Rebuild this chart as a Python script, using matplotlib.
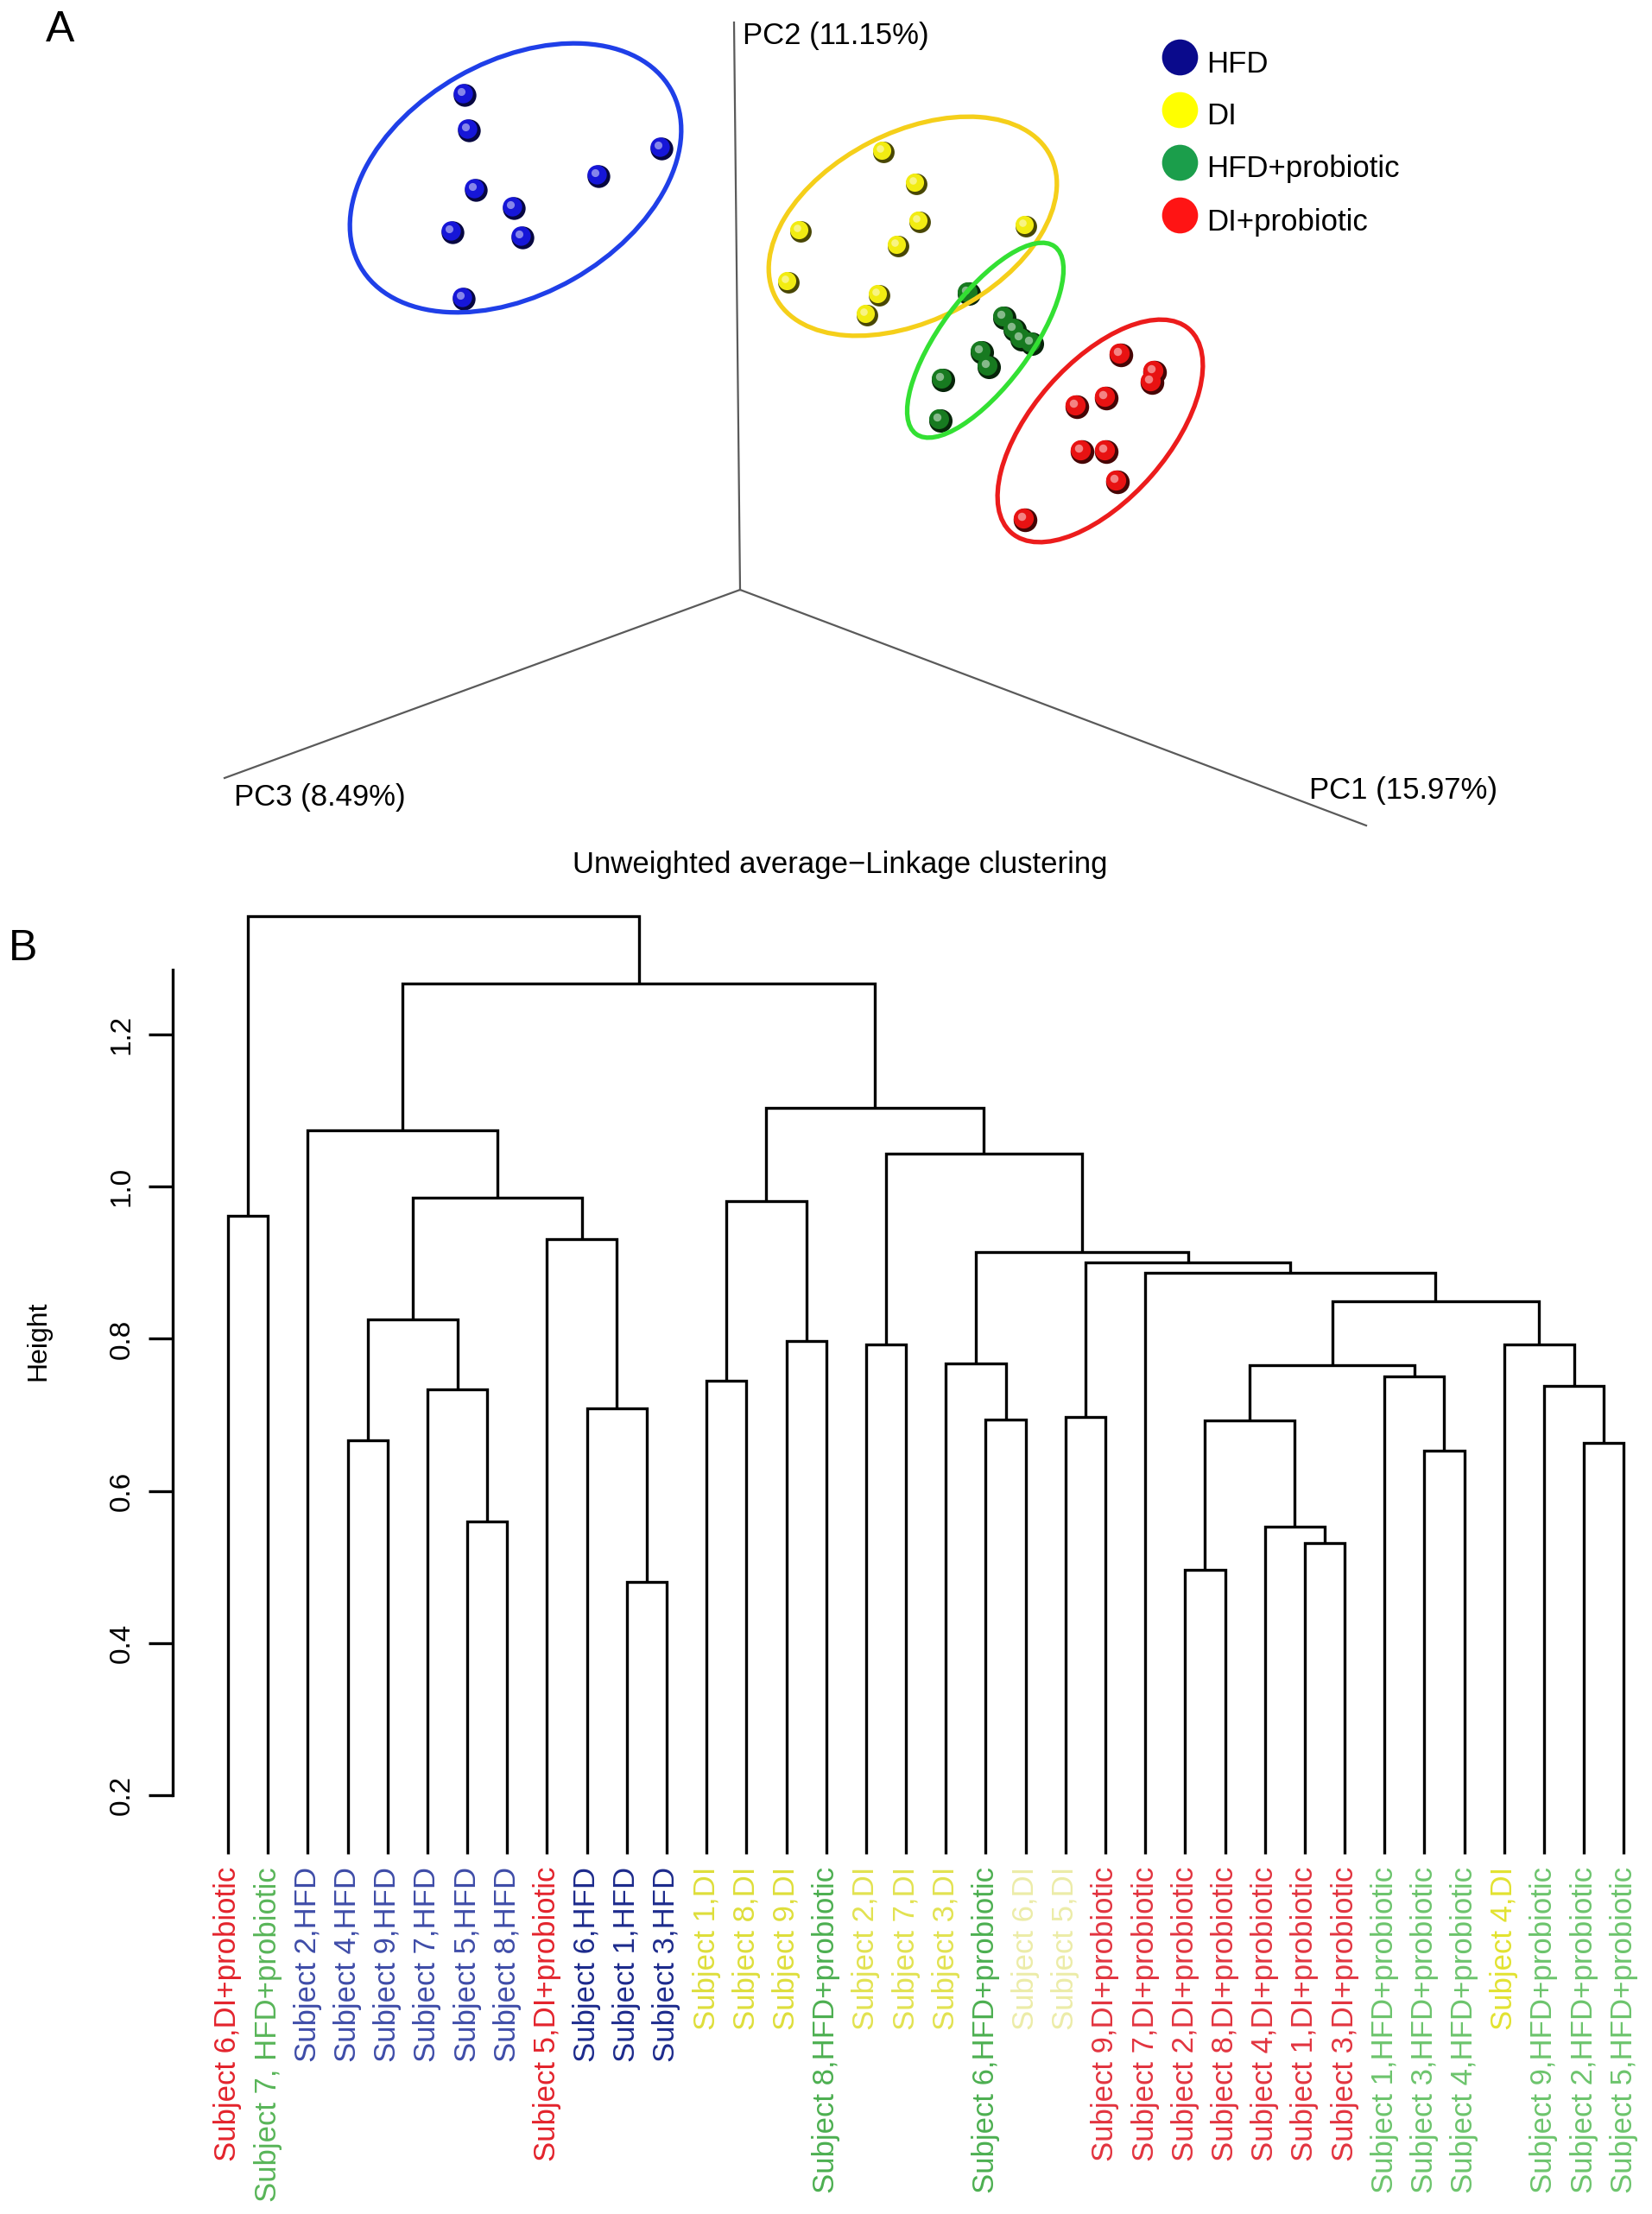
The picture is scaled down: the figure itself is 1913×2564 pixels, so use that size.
import matplotlib
matplotlib.use("Agg")
import matplotlib.pyplot as plt
from matplotlib.patches import Ellipse
from matplotlib.transforms import ScaledTranslation
from matplotlib.colors import to_rgb

plt.rcParams['font.family'] = ['Liberation Sans', 'DejaVu Sans']

# ---------------- Panel A data (projected PCoA coordinates) ----------------
groups = ['HFD', 'DI', 'HFD+probiotic', 'DI+probiotic']
legend_colors = ['#0a0a8c', '#ffff00', '#1b9e4b', '#ff1414']
point_colors = ['#1616d8', '#f2ec12', '#177a20', '#e81212']
ellipse_colors = ['#1f3fe8', '#f5cf1a', '#33e033', '#ec1c1c']

hfd_x = [-3.19, -3.14, -0.91, -1.64, -3.06, -2.62, -3.33, -2.52, -3.20]
hfd_y = [5.73, 5.32, 5.11, 4.79, 4.63, 4.42, 4.14, 4.08, 3.37]
di_x = [1.66, 2.04, 0.70, 2.08, 3.31, 1.83, 0.56, 1.61, 1.47]
di_y = [5.07, 4.70, 4.15, 4.26, 4.21, 3.98, 3.56, 3.41, 3.18]
hfdp_x = [2.65, 3.06, 3.18, 3.26, 3.38, 2.80, 2.88, 2.35, 2.32]
hfdp_y = [3.43, 3.15, 3.01, 2.90, 2.85, 2.75, 2.58, 2.43, 1.96]
dip_x = [4.41, 4.80, 4.77, 4.24, 3.90, 3.96, 4.24, 4.37, 3.30]
dip_y = [2.72, 2.52, 2.40, 2.22, 2.12, 1.60, 1.60, 1.25, 0.81]

# confidence ellipses: centre x, centre y, width, height, angle
ell_cx = [-2.60, 2.00, 2.84, 4.17]
ell_cy = [4.77, 4.21, 2.89, 1.84]
ell_w = [4.14, 3.58, 2.70, 3.13]
ell_h = [2.70, 2.18, 1.04, 1.58]
ell_ang = [29.7, 27.2, 53.5, 48.9]

# PC axes (end points, projected)
axis_names = ['PC1 (15.97%)', 'PC2 (11.15%)', 'PC3 (8.49%)']
axis_end_x = [7.25, -0.07, -5.97]
axis_end_y = [-2.73, 6.57, -2.18]

# ---------------- Panel B data (UPGMA dendrogram) ----------------
leaf_labels = [
    'Subject 6,DI+probiotic', 'Subject 7, HFD+probiotic', 'Subject 2,HFD', 'Subject 4,HFD',
    'Subject 9,HFD', 'Subject 7,HFD', 'Subject 5,HFD', 'Subject 8,HFD',
    'Subject 5,DI+probiotic', 'Subject 6,HFD', 'Subject 1,HFD', 'Subject 3,HFD',
    'Subject 1,DI', 'Subject 8,DI', 'Subject 9,DI', 'Subject 8,HFD+probiotic',
    'Subject 2,DI', 'Subject 7,DI', 'Subject 3,DI', 'Subject 6,HFD+probiotic',
    'Subject 6,DI', 'Subject 5,DI', 'Subject 9,DI+probiotic', 'Subject 7,DI+probiotic',
    'Subject 2,DI+probiotic', 'Subject 8,DI+probiotic', 'Subject 4,DI+probiotic',
    'Subject 1,DI+probiotic', 'Subject 3,DI+probiotic', 'Subject 1,HFD+probiotic',
    'Subject 3,HFD+probiotic', 'Subject 4,HFD+probiotic', 'Subject 4,DI',
    'Subject 9,HFD+probiotic', 'Subject 2,HFD+probiotic', 'Subject 5,HFD+probiotic']
leaf_colors = [
    '#e3232c', '#58b558', '#3e4ca8', '#3e4ca8', '#3e4ca8', '#3e4ca8', '#3e4ca8', '#3e4ca8',
    '#e3232c', '#1c2a8c', '#1c2a8c', '#1c2a8c',
    '#dede3a', '#dede3a', '#dede3a', '#4caf50', '#e2e250', '#e2e250', '#e2e250', '#4caf50',
    '#ececa8', '#ececa8', '#e2343f', '#e2343f', '#e2343f', '#e2343f', '#e2343f', '#e2343f',
    '#e2343f', '#6cc46c', '#6cc46c', '#6cc46c', '#e2e230', '#6cc46c', '#6cc46c', '#6cc46c']

# merges: negative = leaf number, positive = earlier merge number (R hclust style)
merge_left = [-11, -7, -4, -6, 3, -10, -9, 5, -3, -1, -13, -15, 11, -17, -20, -19, -22,
              -25, -28, -27, 18, -31, -30, 21, -35, -34, -33, 24, -24, 17, 16, 14, 13, 9, 10]
merge_right = [-12, -8, -5, 2, 4, 1, 6, 7, 8, -2, -14, -16, 12, -18, -21, 15, -23,
               -26, -29, 19, 20, -32, 22, 23, -36, 25, 26, 27, 28, 29, 30, 31, 32, 33, 34]
merge_height = [0.480, 0.560, 0.666, 0.733, 0.825, 0.709, 0.931, 0.985, 1.074, 0.962,
                0.745, 0.797, 0.981, 0.792, 0.694, 0.768, 0.697, 0.496, 0.532, 0.553,
                0.693, 0.653, 0.751, 0.765, 0.663, 0.738, 0.792, 0.849, 0.887, 0.900,
                0.914, 1.043, 1.104, 1.267, 1.355]
leaf_base = 0.123

W, H = 1913, 2564
fig = plt.figure(figsize=(W / 100, H / 100), dpi=100)

# ---------------- Panel A ----------------
ax = fig.add_axes([0, 1 - 1000 / H, 1, 1000 / H])
ax.set_xlim(-8.57, 10.56)
ax.set_ylim(-3.17, 6.83)
ax.axis('off')

for ex, ey in zip(axis_end_x, axis_end_y):
    ax.plot([0, ex], [0, ey], color='#5a5a5a', lw=1.6, zorder=1)
ax.text(6.59, -2.32, axis_names[0], fontsize=25, va='center', ha='left')
ax.text(0.03, 6.42, axis_names[1], fontsize=25, va='center', ha='left')
ax.text(-5.86, -2.41, axis_names[2], fontsize=25, va='center', ha='left')


def offs(dx, dy):
    return ax.transData + ScaledTranslation(dx / 72, dy / 72, fig.dpi_scale_trans)


def spheres(xs, ys, color, s):
    base = to_rgb(color)
    dark = tuple(c * 0.3 for c in base)
    light = tuple(c + (1 - c) * 0.6 for c in base)
    ax.scatter(xs, ys, s=s, color=dark, linewidths=0, zorder=3)
    ax.scatter(xs, ys, s=s * 0.72, color=base, linewidths=0, zorder=4, transform=offs(-1.4, 1.4))
    ax.scatter(xs, ys, s=s * 0.12, color=light, linewidths=0, zorder=5, alpha=0.8,
               transform=offs(-3.2, 3.2))


xs_all = [hfd_x, di_x, hfdp_x, dip_x]
ys_all = [hfd_y, di_y, hfdp_y, dip_y]
sphere_size = [360, 320, 380, 390]
for i in range(4):
    spheres(xs_all[i], ys_all[i], point_colors[i], sphere_size[i])
    ax.add_patch(Ellipse((ell_cx[i], ell_cy[i]), ell_w[i], ell_h[i], angle=ell_ang[i],
                         fill=False, edgecolor=ellipse_colors[i], lw=3.8, zorder=6))

# legend
leg_y = [6.17, 5.56, 4.95, 4.34]
for i, g in enumerate(groups):
    ax.scatter([5.09], [leg_y[i]], s=900, color=legend_colors[i], linewidths=0, zorder=5)
    ax.text(5.40, leg_y[i] - 0.08, g, fontsize=25, va='center', ha='left')

fig.text(70 / W, 1 - 35 / H, 'A', fontsize=36, ha='center', va='center')

# ---------------- Panel B ----------------
leaf0_px, step_px = 264, 46.18
axis_px = 200
h02_px, px_per_unit = 2079, 881
ylo, yhi = 0.12, 1.38
x_left = 1 + (axis_px - leaf0_px) / step_px
x_right = 1 + (W - leaf0_px) / step_px
bot_px = h02_px + (0.2 - ylo) * px_per_unit
top_px = h02_px - (yhi - 0.2) * px_per_unit
ax2 = fig.add_axes([axis_px / W, 1 - bot_px / H, (W - axis_px) / W, (bot_px - top_px) / H])
ax2.set_xlim(x_left, x_right)
ax2.set_ylim(ylo, yhi)

node_x = {}
node_h = {}


def pos(k):
    if k < 0:
        return float(-k), leaf_base
    return node_x[k], node_h[k]


for m in range(len(merge_height)):
    xl, hl = pos(merge_left[m])
    xr, hr = pos(merge_right[m])
    h = merge_height[m]
    ax2.plot([xl, xl, xr, xr], [hl, h, h, hr], color='black', lw=2.4,
             solid_joinstyle='miter', solid_capstyle='butt')
    node_x[m + 1] = (xl + xr) / 2
    node_h[m + 1] = h

for s in ['top', 'right', 'bottom']:
    ax2.spines[s].set_visible(False)
ax2.spines['left'].set_bounds(0.2, 1.285)
ax2.spines['left'].set_linewidth(2.4)
yt = [0.2, 0.4, 0.6, 0.8, 1.0, 1.2]
ax2.set_yticks(yt)
ax2.set_yticklabels([f'{v:.1f}' for v in yt], rotation=90, va='center', fontsize=24)
ax2.tick_params(axis='y', length=20, width=2.4, pad=11)
ax2.set_xticks(range(1, len(leaf_labels) + 1))
ax2.set_xticklabels(leaf_labels, rotation=90, fontsize=25)
ax2.tick_params(axis='x', length=0, pad=9)
for lbl, c in zip(ax2.get_xticklabels(), leaf_colors):
    lbl.set_color(c)

fig.text(973 / W, 1 - 1001 / H, 'Unweighted average\u2212Linkage clustering',
         fontsize=25, ha='center', va='center')
fig.text(44 / W, 1 - 1553 / H, 'Height', fontsize=23, rotation=90, ha='center', va='center')
fig.text(27 / W, 1 - 1099 / H, 'B', fontsize=36, ha='center', va='center')

fig.savefig('out.png', dpi=100)
